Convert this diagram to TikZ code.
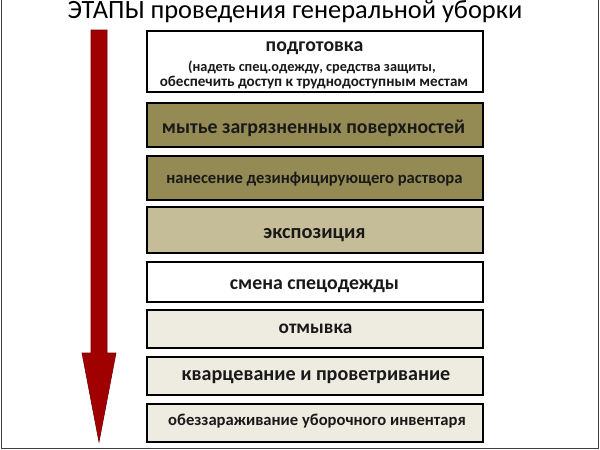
\documentclass[tikz,border=0pt]{standalone}
\usepackage{fontspec}
\setmainfont{Carlito}
\definecolor{olive}{HTML}{948A54}
\definecolor{khaki}{HTML}{C4BD97}
\definecolor{pale}{HTML}{EEECE1}
\definecolor{arrowred}{HTML}{A00000}
\definecolor{frame}{HTML}{404040}
\tikzset{
  stagebox/.style={draw=black, line width=2pt, minimum width=336pt, inner sep=0pt},
  boxtext/.style={text=black!90, inner sep=0pt, anchor=base}
}
\newcommand{\fs}[1]{\bfseries\fontsize{#1}{#1}\selectfont}
\begin{document}
\begin{tikzpicture}[x=1pt,y=-1pt]
\useasboundingbox (0,0) rectangle (600,450);
\fill[white] (0,0) rectangle (600,450);
\draw[frame, line width=1pt] (1,0) -- (1,448) -- (598,448) -- (598,0);
% title
\node[inner sep=0pt, anchor=base, font=\fontsize{26.4}{28}\selectfont] (title) at (295,18.5) {ЭТАПЫ проведения генеральной уборки};
% arrow
\draw[fill=arrowred, draw=arrowred!70!black, line width=0.6pt]
  (91,30) -- (107,30) -- (107,353) -- (116,353) -- (99,442) -- (82,353) -- (91,353) -- cycle;
% boxes
\node[stagebox, fill=white, minimum height=61pt] (b1) at (315,61.5) {};
\node[stagebox, fill=olive, minimum height=44pt] (b2) at (315,125) {};
\node[stagebox, fill=olive, minimum height=44pt] (b3) at (315,178) {};
\node[stagebox, fill=khaki, minimum height=46pt] (b4) at (315,230) {};
\node[stagebox, fill=white, minimum height=40pt] (b5) at (315,282) {};
\node[stagebox, fill=pale, minimum height=38pt] (b6) at (315,329) {};
\node[stagebox, fill=pale, minimum height=38pt] (b7) at (315,376) {};
\node[stagebox, fill=pale, minimum height=38pt] (b8) at (315,423) {};
% texts
\node[boxtext, font=\fs{19.8}] (t1a) at (314.5,51) {подготовка};
\node[boxtext, font=\fs{14.3}] (t1b) at (312,71.5) {(надеть спец.одежду, средства защиты,};
\node[boxtext, font=\fs{15.1}] (t1c) at (314,86.5) {обеспечить доступ к труднодоступным местам};
\node[boxtext, font=\fs{19.8}] (t2) at (313.5,133.5) {мытье загрязненных поверхностей};
\node[boxtext, font=\fs{16.6}] (t3) at (314.5,183.5) {нанесение дезинфицирующего раствора};
\node[boxtext, font=\fs{20.4}] (t4) at (314.5,238) {экспозиция};
\node[boxtext, font=\fs{19.8}] (t5) at (314.5,289.5) {смена спецодежды};
\node[boxtext, font=\fs{19.3}] (t6) at (315.5,333) {отмывка};
\node[boxtext, font=\fs{20.1}] (t7) at (316,380.5) {кварцевание и проветривание};
\node[boxtext, font=\fs{16.6}] (t8) at (317,425.5) {обеззараживание уборочного инвентаря};
\end{tikzpicture}
\end{document}
